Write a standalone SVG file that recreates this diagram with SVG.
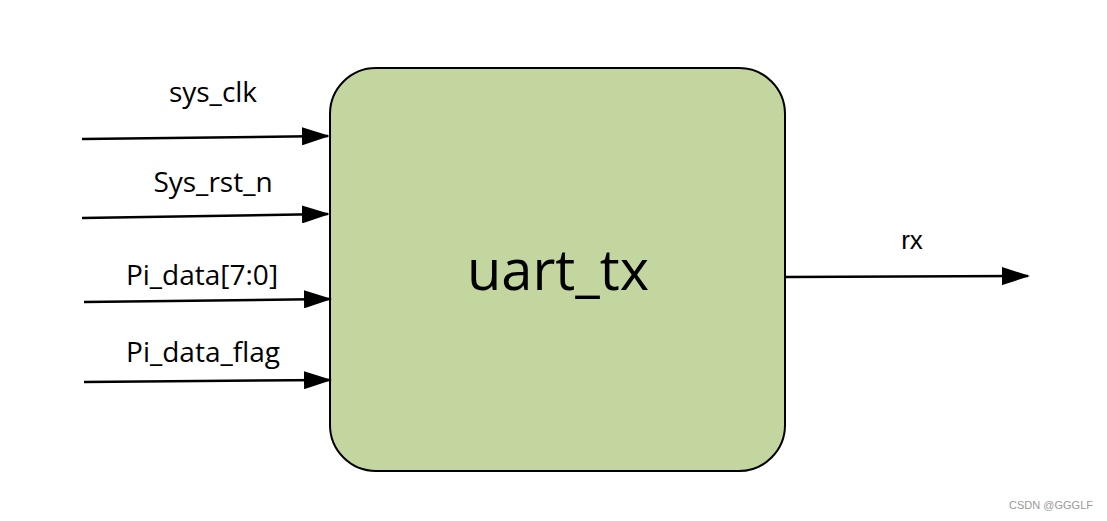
<svg xmlns="http://www.w3.org/2000/svg" width="1107" height="521" viewBox="0 0 1107 521">
<style>
.lbl{font-family:"Open Sans","Liberation Sans",sans-serif;font-size:28px;fill:#000;text-anchor:middle}
.wire{stroke:#000;stroke-width:2.5;fill:none}
</style>
<defs>
<marker id="ah" viewBox="0 0 28 18" refX="26" refY="9" markerWidth="28" markerHeight="18" markerUnits="userSpaceOnUse" orient="auto">
<path d="M0,0 L28,9 L0,18 Z" fill="#000"/>
</marker>
</defs>
<rect width="1107" height="521" fill="#fff"/>
<g id="uart_tx">
<rect x="330" y="68" width="455" height="403" rx="46" ry="46" fill="#c4d69f" stroke="#000" stroke-width="2"/>
<text x="558" y="290" style="font-family:'Open Sans','Liberation Sans',sans-serif;font-size:56px;fill:#000;text-anchor:middle">uart_tx</text>
</g>
<g id="connectors">
<path class="wire" d="M82,139 L328,136" marker-end="url(#ah)"/>
<path class="wire" d="M82,218 L328,214" marker-end="url(#ah)"/>
<path class="wire" d="M84,302 L330,299" marker-end="url(#ah)"/>
<path class="wire" d="M84,382 L330,380" marker-end="url(#ah)"/>
<path class="wire" d="M785,277 L1028,276" marker-end="url(#ah)"/>
</g>
<g id="labels">
<text class="lbl" x="213" y="102">sys_clk</text>
<text class="lbl" x="213" y="192">Sys_rst_n</text>
<text class="lbl" x="202" y="285">Pi_data[7:0]</text>
<text class="lbl" x="203" y="362">Pi_data_flag</text>
<text x="912" y="249" style="font-family:'Liberation Sans',Arial,sans-serif;font-size:26px;fill:#000;text-anchor:middle">rx</text>
</g>
<text x="1093" y="509" style="font-family:'Liberation Sans',Arial,sans-serif;font-size:11px;fill:#999;text-anchor:end">CSDN @GGGLF</text>
</svg>
